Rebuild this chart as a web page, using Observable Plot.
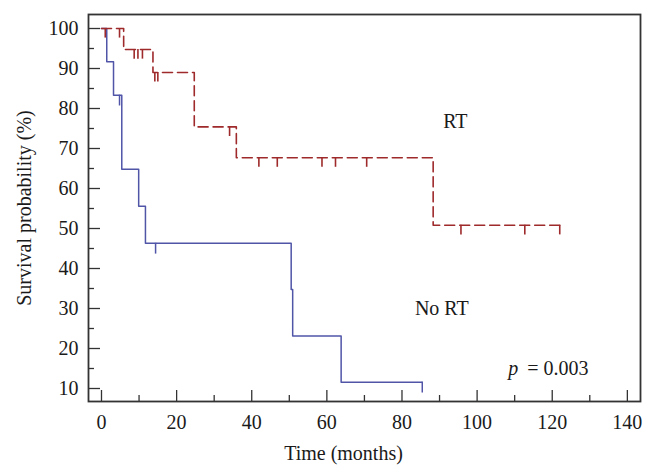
<!DOCTYPE html>
<html><head><meta charset="utf-8">
<script src="https://cdn.jsdelivr.net/npm/d3@7"></script>
<script src="https://cdn.jsdelivr.net/npm/@observablehq/plot@0.6"></script>
<style>body{margin:0;background:#fff;} svg{display:block}</style>
</head><body><div id="chart"></div>
<script>
// No RT group (solid blue)
const noRtTime = [0, 1.4, 3.2, 5.4, 9.9, 11.7, 50.5, 50.9, 63.8, 85.4];
const noRtSurv = [100, 91.67, 83.33, 64.81, 55.56, 46.30, 34.72, 23.15, 11.57, 11.57];
const noRtCensorTime = [4.8, 14.4, 85.4];
const noRtCensorSurv = [83.33, 46.30, 11.57];
// RT group (dashed red)
const rtTime = [0, 5.9, 13.7, 24.7, 35.9, 88.3, 122];
const rtSurv = [100, 94.74, 89.0, 75.4, 67.7, 50.8, 50.8];
const rtCensorTime = [1.0, 4.8, 8.7, 9.7, 10.9, 14.2, 15.0, 34.1, 41.9, 46.8, 58.7, 62.3, 70.6, 95.7, 112.7, 122];
const rtCensorSurv = [100, 100, 94.74, 94.74, 94.74, 89.0, 89.0, 75.4, 67.7, 67.7, 67.7, 67.7, 67.7, 50.8, 50.8, 50.8];
// ticks
const xTicks = [0, 20, 40, 60, 80, 100, 120, 140];
const xMinor = [10, 30, 50, 70, 90, 110, 130];
const yTicks = [10, 20, 30, 40, 50, 60, 70, 80, 90, 100];
const yMinor = [15, 25, 35, 45, 55, 65, 75, 85, 95];
// annotations
const groupLabels = ["RT", "No RT"];
const groupLabelX = [94.2, 90.6];
const groupLabelY = [76.8, 30];
const pLabelX = [111.5];
const pLabelY = [15];
const xTitle = "Time (months)";
const yTitle = "Survival probability (%)";

const BLUE = "#5055a8", RED = "#9e2a2b", AX = "#333", TXT = "#1a1a1a";
const noRt = noRtTime.map((t, i) => ({t, s: noRtSurv[i]}));
const noRtC = noRtCensorTime.map((t, i) => ({t, s: noRtCensorSurv[i]}));
const rt = rtTime.map((t, i) => ({t, s: rtSurv[i]}));
const rtC = rtCensorTime.map((t, i) => ({t, s: rtCensorSurv[i]}));

const chart = Plot.plot({
  width: 656, height: 476,
  marginLeft: 88, marginRight: 16, marginTop: 14, marginBottom: 75,
  style: {fontFamily: "'Liberation Serif', serif", fontSize: "20px", color: TXT, background: "#fff"},
  x: {domain: [-3.46, 143.5]},
  y: {domain: [6.75, 103.5]},
  marks: [
    Plot.axisX({ticks: xTicks, tickSize: 11, dy: -11, fill: "none", stroke: AX, strokeWidth: 1.3, label: null}),
    Plot.axisX({ticks: xMinor, tickSize: 6, dy: -6, fill: "none", stroke: AX, strokeWidth: 1.3, label: null}),
    Plot.axisX({ticks: xTicks, tickSize: 0, tickPadding: 13, label: null, fill: TXT}),
    Plot.axisY({ticks: yTicks, tickSize: 12, dx: 12, fill: "none", stroke: AX, strokeWidth: 1.3, label: null}),
    Plot.axisY({ticks: yMinor, tickSize: 6, dx: 6, fill: "none", stroke: AX, strokeWidth: 1.3, label: null}),
    Plot.axisY({ticks: yTicks, tickSize: 0, tickPadding: 10, label: null, fill: TXT}),
    Plot.frame({stroke: AX, strokeWidth: 1.8}),
    Plot.line(noRt, {x: "t", y: "s", curve: "step-after", stroke: BLUE, strokeWidth: 1.5}),
    Plot.ruleX(noRtC, {x: "t", y1: "s", y2: d => d.s - 2.7, stroke: BLUE, strokeWidth: 1.5}),
    Plot.line(rt, {x: "t", y: "s", curve: "step-after", stroke: RED, strokeWidth: 1.6, strokeDasharray: "10,5"}),
    Plot.ruleX(rtC, {x: "t", y1: "s", y2: d => d.s - 2.4, stroke: RED, strokeWidth: 1.6}),
    Plot.text(groupLabels, {x: (d, i) => groupLabelX[i], y: (d, i) => groupLabelY[i], text: d => d, fill: TXT}),
    Plot.text(["p"], {x: pLabelX, y: pLabelY, text: d => d, textAnchor: "end", dx: -2, fontStyle: "italic", fill: TXT}),
    Plot.text(["= 0.003"], {x: pLabelX, y: pLabelY, text: d => d, textAnchor: "start", dx: 7, fill: TXT}),
    Plot.text([xTitle], {frameAnchor: "bottom", text: d => d, textAnchor: "middle", lineAnchor: "middle", dx: -21, dy: 52, fill: TXT}),
    Plot.text([yTitle], {frameAnchor: "left", text: d => d, textAnchor: "middle", lineAnchor: "middle", rotate: -90, dx: -64, fill: TXT})
  ]
});
document.getElementById("chart").appendChild(chart);
</script>
</body></html>
